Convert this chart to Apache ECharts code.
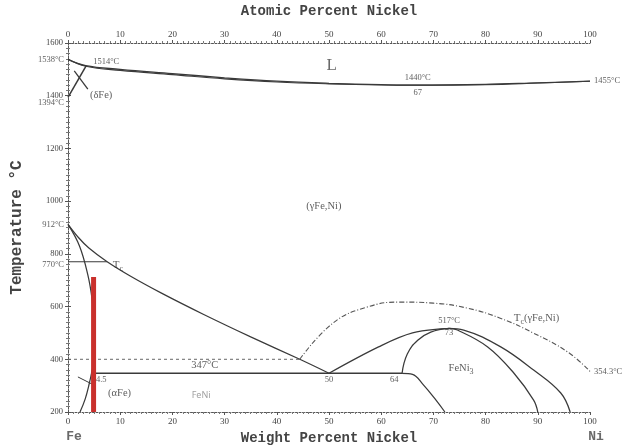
<!DOCTYPE html>
<html>
<head>
<meta charset="utf-8">
<script src="https://cdn.jsdelivr.net/npm/echarts@6/dist/echarts.min.js"></script>
<style>
  html, body { margin: 0; padding: 0; background: #fff; }
  #chart { width: 634px; height: 445px; }
</style>
</head>
<body>
<div id="chart"></div>
<script>
// Fe–Ni phase diagram: composition in wt% Ni, temperature in °C

const xTicks = [0, 10, 20, 30, 40, 50, 60, 70, 80, 90, 100];
const yTicks = [200, 400, 600, 800, 1000, 1200, 1400, 1600];

// liquid / solid boundaries
const liquidus = [[0,1538],[3.4,1514],[10,1500],[20,1484],[30,1468],[40,1455],[50,1447],[60,1442],[67,1440],[80,1443],[90,1449],[100,1455]];
const solidus  = [[0,1538],[3.4,1512],[10,1496],[20,1480],[30,1464],[40,1452],[50,1445],[60,1441],[67,1440],[80,1442],[90,1448],[100,1455]];

// delta iron field
const deltaBoundary = [[0,1394],[3.5,1514]];
const deltaLeader = [[1.2,1494],[3.8,1425]];

// gamma / (alpha + gamma) boundary
const gammaBoundary = [[0,912],[2,862],[4,822],[7.5,770],[12,715],[18,650],[26,570],[35,485],[44.4,400],[50,347]];

// alpha / (alpha + gamma) boundary
const alphaBoundary = [[0,912],[2.2,830],[3.8,720],[4.6,630],[5.0,540],[5.1,450],[4.9,390],[4.5,347]];
const alphaLow = [[4.5,347],[4.1,310],[3.3,250],[2.3,200]];
const alphaLeader = [[1.9,333],[4.6,306]];

// magnetic transition in alpha iron
const curieAlpha = [[0,770],[7.5,770]];

// ordering line at 400 °C
const line400 = [[0,400],[44.4,400]];

// eutectoid at 347 °C and FeNi3 boundaries
const eutectoid = [[4.5,347],[64,347]];
const feni3Lower = [[64,347],[66,343],[68,305],[70.5,245],[72.2,200]];
const feni3LeftA = [[50,347],[59.5,447],[66,500],[73,517]];
const feni3LeftB = [[64,347],[65,420],[67,472],[69.5,503],[73,517]];
const feni3RightA = [[73,517],[74.6,511],[80.4,447],[85.4,348],[89.2,245],[90,200]];
const feni3RightB = [[73,517],[75.8,511],[82.9,447],[89.2,359],[94.4,272],[96.2,200]];

// Curie temperature of (γFe,Ni)
const curieGamma = [[44.4,400],[50.8,538],[57.3,598],[63.6,617],[70,613],[76.5,594],[82.8,556],[89.1,500],[95.7,428],[100,354.3]];

// highlighted composition
const highlight = [[4.9,200],[4.9,712]];

// text annotations: [x, y, text, position, offsetX, offsetY, style]
const notes = [
  [50.5, 1516, 'L', 'inside', 0, 0, 'big'],
  [5.2, 1527, '1514°C', 'right', -4, 0, 'small'],
  [67, 1440, '1440°C', 'top', 0, -1, 'small'],
  [67, 1440, '67', 'bottom', 0, 1, 'small'],
  [100, 1455, '1455°C', 'right', 2, 0, 'small'],
  [4.2, 1400, '(δFe)', 'right', -2, 0, 'mid'],
  [49, 981, '(γFe,Ni)', 'inside', 0, 0, 'mid'],
  [8.2, 770, '{t|T}{s|c}', 'right', 0, 3, 'tc'],
  [26.2, 347, '347°C', 'top', 0, -1, 'mid'],
  [5.4, 347, '4.5', 'bottom', 5, 0, 'small'],
  [7.3, 270, '(αFe)', 'right', 0, 0, 'mid'],
  [25.5, 262, 'FeNi', 'inside', 0, 0, 'gray'],
  [50, 347, '50', 'bottom', 0, 0, 'small'],
  [62.5, 347, '64', 'bottom', 0, 0, 'small'],
  [73, 517, '517°C', 'top', 0, -1, 'small'],
  [73, 517, '73', 'bottom', 0, -2, 'small'],
  [75.3, 367, '{m|FeNi}{s|3}', 'inside', 0, 0, 'mid'],
  [85, 557, '{t|T}{s|c}{m|(γFe,Ni)}', 'right', 0, 0, 'tc'],
  [100, 354.3, '354.3°C', 'right', 2, 0, 'small'],
  [0, 1538, '1538°C', 'left', -2, 0, 'small'],
  [0, 1394, '1394°C', 'left', -2, 5, 'small'],
  [0, 912, '912°C', 'left', -2, 0, 'small'],
  [0, 770, '770°C', 'left', -2, 3, 'small'],
  [0, 200, 'Fe', 'bottom', 6, 16, 'end'],
  [100, 200, 'Ni', 'bottom', 6, 16, 'end']
];

const INK = '#3a3a3a';
const SERIF = '"Liberation Serif", "DejaVu Serif", serif';
const MONO = '"Liberation Mono", "DejaVu Sans Mono", monospace';

const textStyles = {
  big:   { fontFamily: SERIF, fontSize: 17, color: '#444' },
  mid:   { fontFamily: SERIF, fontSize: 10.5, color: '#333' },
  small: { fontFamily: SERIF, fontSize: 8.5, color: '#333' },
  gray:  { fontFamily: '"Noto Sans", sans-serif', fontSize: 9, color: '#888' },
  end:   { fontFamily: MONO, fontSize: 13, color: '#444', fontWeight: 'bold' },
  tc:    { fontFamily: SERIF, fontSize: 10.5, color: '#333' }
};

function curve(data, opts) {
  return Object.assign({
    type: 'line',
    data: data,
    showSymbol: false,
    symbol: 'none',
    silent: true,
    animation: false,
    lineStyle: { color: INK, width: 1.25 },
    z: 3
  }, opts || {});
}

const series = [
  curve(liquidus, { smooth: 0.4, lineStyle: { color: INK, width: 1.3 } }),
  curve(solidus, { smooth: 0.4, lineStyle: { color: INK, width: 1.1 } }),
  curve(deltaBoundary, { lineStyle: { color: INK, width: 1.5 } }),
  curve(deltaLeader, { lineStyle: { color: INK, width: 1.3 } }),
  curve(gammaBoundary, { smooth: 0.35 }),
  curve(alphaBoundary, { smooth: 0.4 }),
  curve(alphaLow, { smooth: 0.4 }),
  curve(alphaLeader, { lineStyle: { color: INK, width: 1 } }),
  curve(curieAlpha, { lineStyle: { color: INK, width: 1 } }),
  curve(line400, { lineStyle: { color: '#666', width: 1, type: [3, 3] } }),
  curve(eutectoid, { lineStyle: { color: INK, width: 1.4 } }),
  curve(feni3Lower, { smooth: 0.4 }),
  curve(feni3LeftA, { smooth: 0.35 }),
  curve(feni3LeftB, { smooth: 0.45 }),
  curve(feni3RightA, { smooth: 0.4 }),
  curve(feni3RightB, { smooth: 0.4 }),
  curve(curieGamma, { smooth: 0.45, lineStyle: { color: '#555', width: 1.1, type: [5, 2, 1, 2] } }),
  curve(highlight, { lineStyle: { color: '#c9302c', width: 5, cap: 'butt' }, z: 5 }),
  {
    type: 'scatter',
    symbolSize: 0,
    silent: true,
    animation: false,
    z: 6,
    data: notes.map(function (n) {
      const st = textStyles[n[6]];
      return {
        value: [n[0], n[1]],
        label: Object.assign({
          show: true,
          formatter: n[2],
          position: n[3],
          offset: [n[4], n[5]],
          distance: 2,
          rich: {
            t: { fontFamily: SERIF, fontSize: 11, color: '#333', lineHeight: 16, verticalAlign: 'middle' },
            s: { fontFamily: SERIF, fontSize: 8, color: '#333', lineHeight: 8, verticalAlign: 'bottom' },
            m: { fontFamily: SERIF, fontSize: 10.5, color: '#333', lineHeight: 16, verticalAlign: 'middle' }
          }
        }, st)
      };
    })
  }
];

const axisLineStyle = { color: '#555', width: 1, type: [2, 1.5] };

const chart = echarts.init(document.getElementById('chart'), null, { renderer: 'canvas' });
chart.setOption({
  backgroundColor: '#ffffff',
  animation: false,
  grid: { left: 68, right: 44, top: 43, bottom: 33, containLabel: false, outerBoundsMode: 'none' },
  xAxis: [
    {
      type: 'value', position: 'bottom', min: 0, max: 100, interval: 10,
      name: 'Weight Percent Nickel', nameLocation: 'middle', nameGap: 19,
      nameTextStyle: { fontFamily: MONO, fontSize: 14, fontWeight: 'bold', color: '#444' },
      axisLine: { show: true, lineStyle: axisLineStyle },
      axisTick: { show: true, inside: false, length: 3, lineStyle: { color: '#555' } },
      minorTick: { show: true, splitNumber: 10, length: 2, lineStyle: { color: '#777' } },
      splitLine: { show: false },
      axisLabel: { fontFamily: SERIF, fontSize: 9, color: '#444', margin: 5, formatter: function (v) { return xTicks.indexOf(v) >= 0 ? String(v) : ''; } }
    },
    {
      type: 'value', position: 'top', min: 0, max: 100, interval: 10,
      name: 'Atomic Percent Nickel', nameLocation: 'middle', nameGap: 25,
      nameTextStyle: { fontFamily: MONO, fontSize: 14, fontWeight: 'bold', color: '#444' },
      axisLine: { show: true, lineStyle: axisLineStyle },
      axisTick: { show: true, inside: false, length: 3, lineStyle: { color: '#555' } },
      minorTick: { show: true, splitNumber: 10, length: 2, lineStyle: { color: '#777' } },
      splitLine: { show: false },
      axisLabel: { fontFamily: SERIF, fontSize: 9, color: '#444', margin: 4 }
    }
  ],
  yAxis: [
    {
      type: 'value', position: 'left', min: 200, max: 1600, interval: 200,
      name: 'Temperature °C', nameLocation: 'middle', nameGap: 43,
      nameTextStyle: { fontFamily: MONO, fontSize: 16, fontWeight: 'bold', color: '#444' },
      axisLine: { show: true, lineStyle: axisLineStyle },
      axisTick: { show: true, inside: false, length: 3, lineStyle: { color: '#555' } },
      minorTick: { show: true, splitNumber: 10, length: 2, lineStyle: { color: '#777' } },
      splitLine: { show: false },
      axisLabel: { fontFamily: SERIF, fontSize: 8.5, color: '#444', margin: 5, formatter: function (v) { return yTicks.indexOf(v) >= 0 ? String(v) : ''; } }
    },
    {
      type: 'value', position: 'right', min: 200, max: 1600, interval: 200,
      axisLine: { show: true, lineStyle: axisLineStyle },
      axisTick: { show: true, inside: false, length: 3, lineStyle: { color: '#555' } },
      minorTick: { show: true, splitNumber: 10, length: 2, lineStyle: { color: '#777' } },
      splitLine: { show: false },
      axisLabel: { show: false }
    }
  ],
  series: series
});
</script>
</body>
</html>
